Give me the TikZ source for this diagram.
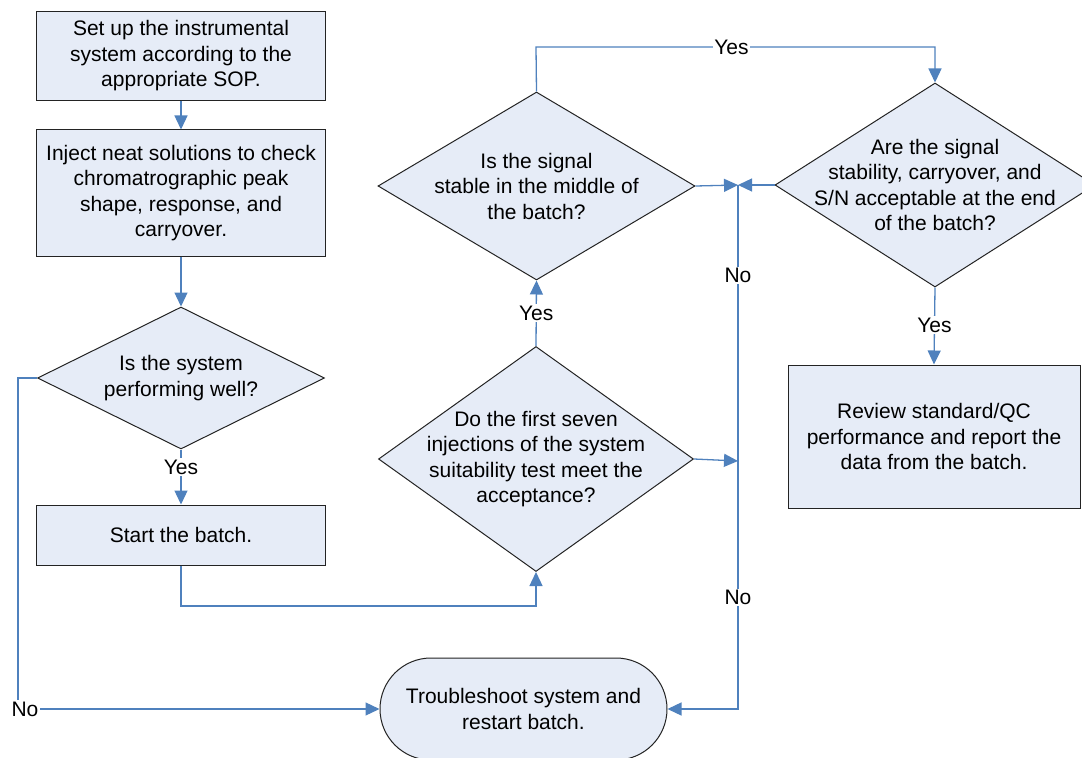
\documentclass[tikz,border=0pt]{standalone}
\usepackage{fontspec}
\setmainfont{Liberation Sans}
\usetikzlibrary{shapes.geometric,shapes.misc,arrows.meta}
\definecolor{boxfill}{RGB}{230,236,247}
\definecolor{linkblue}{RGB}{79,129,189}
\definecolor{edgegray}{RGB}{35,35,35}
\begin{document}
\begin{tikzpicture}[x=1bp,y=-1bp,
  font=\fontsize{21bp}{25.5bp}\selectfont,
  procbox/.style={draw=edgegray,line width=1bp,fill=boxfill,rectangle,inner sep=0,align=center},
  decision/.style={draw=edgegray,line width=1bp,fill=boxfill,diamond,inner sep=0},
  qtext/.style={align=center,inner sep=0},
  termbox/.style={draw=edgegray,line width=1bp,fill=boxfill,rounded rectangle,inner sep=0,align=center},
  link/.style={draw=linkblue,line width=1.3bp},
  flow/.style={link,-{Triangle[length=14bp,width=13bp]}},
  lab/.style={fill=white,inner sep=1.5bp}
]
\useasboundingbox (0,0) rectangle (1082,758);

% process boxes
\node[procbox,minimum width=288bp,minimum height=88bp] (setup) at (181,56)
  {Set up the instrumental\\system according to the\\appropriate SOP.};
\node[procbox,minimum width=288bp,minimum height=126bp] (inject) at (181,193)
  {Inject neat solutions to check\\chromatrographic peak\\shape, response, and\\carryover.};
\node[procbox,minimum width=288bp,minimum height=60bp] (start) at (181,535)
  {Start the batch.};
\node[procbox,minimum width=292bp,minimum height=143bp] (review) at (934,436.5)
  {Review standard/QC\\performance and report the\\data from the batch.};

% decisions
\node[decision,minimum width=287bp,minimum height=142bp] (perf) at (181,378) {};
\node[qtext] (perft) at (perf.center) {Is the system\\performing well?};
\node[decision,minimum width=315bp,minimum height=225bp] (seven) at (536,459) {};
\node[qtext] (sevent) at (seven.center) {Do the first seven\\injections of the system\\suitability test meet the\\acceptance?};
\node[decision,minimum width=317bp,minimum height=188bp] (mid) at (536.5,186) {};
\node[qtext] (midt) at (mid.center) {Is the signal\\stable in the middle of\\the batch?};
\node[decision,minimum width=320bp,minimum height=204bp] (endq) at (935,185) {};
\node[qtext] (endqt) at (endq.center) {Are the signal\\stability, carryover, and\\S/N acceptable at the end\\of the batch?};

% terminator
\node[termbox,minimum width=287bp,minimum height=102bp] (trouble) at (523.5,709)
  {Troubleshoot system and\\restart batch.};

% junction coordinates
\coordinate (jtop) at (738,185);
\coordinate (jmid) at (738,461);
\coordinate (jbot) at (738,709);
\coordinate (yl) at (536,47);
\coordinate (yr) at (935,47);
\coordinate (bl) at (181,606);
\coordinate (br) at (536,606);
\coordinate (nl1) at (18,378);
\coordinate (nl2) at (18,709);

% connectors
\draw[flow] (setup.south) -- (inject.north);
\draw[flow] (inject.south) -- (perf.north);
\draw[flow] (perf.south) -- node[lab,pos=0.32] {Yes} (start.north);
\draw[flow] (start.south) -- (bl) -- (br) -- (seven.south);
\draw[flow] (seven.north) -- node[lab,pos=0.5] {Yes} (mid.south);
\draw[flow] (mid.north) -- (yl) -- node[lab,pos=0.49] {Yes} (yr) -- (endq.north);
\draw[flow] (endq.south) -- node[lab,pos=0.49] {Yes} (review.north);
\draw[flow] (mid.east) -- (jtop);
\draw[flow] (endq.west) -- (jtop);
\draw[flow] (seven.east) -- (jmid);
\draw[flow] (jtop) -- node[lab,pos=0.173] {No} node[lab,pos=0.787] {No} (jbot) -- (trouble.east);
\draw[flow] (perf.west) -- (nl1) -- (nl2) -- (trouble.west);
\node[lab,xshift=7bp] (nolab) at (nl2) {No};
\end{tikzpicture}
\end{document}
